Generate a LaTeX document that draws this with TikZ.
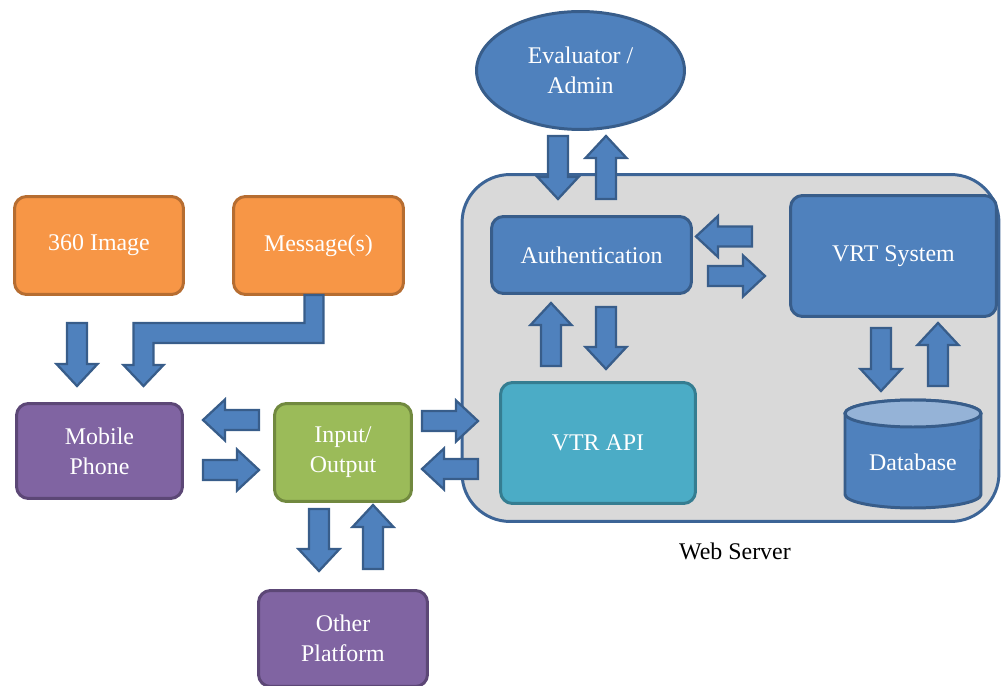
\documentclass[tikz,border=0pt]{standalone}
\usepackage{fontspec}
\setmainfont{Liberation Serif}
\usepackage{tikz}
\usetikzlibrary{calc,shapes.geometric}

\definecolor{orangefill}{HTML}{F79646}
\definecolor{orangeedge}{HTML}{B66D31}
\definecolor{purplefill}{HTML}{8064A2}
\definecolor{purpleedge}{HTML}{5C4776}
\definecolor{greenfill}{HTML}{9BBB59}
\definecolor{greenedge}{HTML}{71893F}
\definecolor{bluefill}{HTML}{4F81BD}
\definecolor{blueedge}{HTML}{385D8A}
\definecolor{aquafill}{HTML}{4BACC6}
\definecolor{aquaedge}{HTML}{357D91}
\definecolor{serverfill}{HTML}{D9D9D9}
\definecolor{serveredge}{HTML}{3C6496}
\definecolor{dbtopfill}{HTML}{95B3D7}

\tikzset{
  box/.style={rectangle, rounded corners=0.24cm, line width=1.7pt, text=white, align=center,
    inner sep=0pt, font=\fontsize{13.6pt}{17pt}\selectfont},
  orangebox/.style={box, draw=orangeedge, fill=orangefill},
  purplebox/.style={box, draw=purpleedge, fill=purplefill},
  greenbox/.style={box, draw=greenedge, fill=greenfill},
  bluebox/.style={box, draw=blueedge, fill=bluefill},
  aquabox/.style={box, draw=aquaedge, fill=aquafill},
  blockarrow/.style={draw=blueedge, fill=bluefill, line width=1.3pt, line join=miter,
    to path={let \p1=(\tikztostart), \p2=(\tikztotarget), \p3=($(\p2)!0.44cm!(\p1)$) in
      ($(\p1)!0.2cm!90:(\p2)$) -- ($(\p3)!0.2cm!-90:(\p1)$) -- ($(\p3)!0.41cm!-90:(\p1)$)
      -- (\p2) -- ($(\p3)!0.41cm!90:(\p1)$) -- ($(\p3)!0.2cm!90:(\p1)$)
      -- ($(\p1)!0.2cm!-90:(\p2)$) -- cycle}}
}

\begin{document}
\begin{tikzpicture}[x=0.02cm, y=-0.02cm]
\useasboundingbox (0,0) rectangle (1002,686);

% web server frame
\node[rectangle, rounded corners=0.96cm, line width=1.7pt, draw=serveredge, fill=serverfill,
  minimum width=10.74cm, minimum height=6.94cm] (server) at (730.5,348) {}; % server
\node[font=\fontsize{13.6pt}{17pt}\selectfont] (serverlabel) at (735,551) {Web Server}; % server

% nodes
\node[ellipse, line width=1.7pt, draw=blueedge, fill=bluefill, text=white, align=center, inner sep=0pt,
  minimum width=4.16cm, minimum height=2.36cm, font=\fontsize{13.6pt}{17pt}\selectfont]
  (eval) at (580.5,70.5) {Evaluator /\\Admin}; % eval
\node[bluebox, minimum width=4.0cm, minimum height=1.54cm] (auth) at (591.5,255) {Authentication}; % auth
\node[bluebox, minimum width=4.12cm, minimum height=2.42cm] (vrt) at (893.5,256) {VRT System}; % vrt
\node[aquabox, minimum width=3.9cm, minimum height=2.42cm] (api) at (598,443) {VTR API}; % api
\node[orangebox, minimum width=3.38cm, minimum height=1.96cm] (img) at (99,245.5) {360 Image}; % img
\node[orangebox, minimum width=3.40cm, minimum height=1.96cm] (msg) at (318.5,245.5) {Message(s)}; % msg
\node[purplebox, minimum width=3.32cm, minimum height=1.90cm] (mobile) at (99.5,451) {Mobile\\Phone}; % mobile
\node[greenbox, minimum width=2.74cm, minimum height=1.96cm] (io) at (343,452.5) {Input/\\Output}; % io
\node[purplebox, minimum width=3.38cm, minimum height=1.92cm] (other) at (343,638.5) {Other\\Platform}; % other

% database
\draw[line width=1.7pt, draw=blueedge, fill=bluefill] (845,413.5) -- (845,494.5)
  arc[start angle=180, end angle=360, x radius=1.36cm, y radius=0.27cm] -- (981,413.5)
  arc[start angle=0, end angle=180, x radius=1.36cm, y radius=0.27cm] -- cycle; % db
\draw[line width=1.7pt, draw=blueedge, fill=dbtopfill] (913,413.5) ellipse [x radius=1.36cm, y radius=0.27cm]; % db
\node[text=white, font=\fontsize{13.6pt}{17pt}\selectfont] (db) at (913,462) {Database}; % db

% arrow ends
\coordinate (a1s) at (77,323);   \coordinate (a1e) at (77,386);
\coordinate (a3s) at (259,420);  \coordinate (a3e) at (203,420);
\coordinate (a4s) at (203,470);  \coordinate (a4e) at (259,470);
\coordinate (a5s) at (422,421);  \coordinate (a5e) at (478,421);
\coordinate (a6s) at (478,469);  \coordinate (a6e) at (422,469);
\coordinate (a7s) at (319,509);  \coordinate (a7e) at (319,571);
\coordinate (a8s) at (373,569);  \coordinate (a8e) at (373,505);
\coordinate (a9s) at (558,136);  \coordinate (a9e) at (558,199);
\coordinate (a10s) at (606,199); \coordinate (a10e) at (606,136);
\coordinate (a11s) at (752,236.5); \coordinate (a11e) at (696,236.5);
\coordinate (a12s) at (708,276); \coordinate (a12e) at (765,276);
\coordinate (a13s) at (551,366); \coordinate (a13e) at (551,303);
\coordinate (a14s) at (606,307); \coordinate (a14e) at (606,369);
\coordinate (a15s) at (881,328); \coordinate (a15e) at (881,391);
\coordinate (a16s) at (938,386); \coordinate (a16e) at (938,323);

% block arrows
\draw[blockarrow] (a1s) to (a1e); % img to mobile
\draw[blockarrow] (a3s) to (a3e); % io to mobile
\draw[blockarrow] (a4s) to (a4e); % mobile to io
\draw[blockarrow] (a5s) to (a5e); % io to api
\draw[blockarrow] (a6s) to (a6e); % api to io
\draw[blockarrow] (a7s) to (a7e); % io to other
\draw[blockarrow] (a8s) to (a8e); % other to io
\draw[blockarrow] (a9s) to (a9e); % eval to auth
\draw[blockarrow] (a10s) to (a10e); % auth to eval
\draw[blockarrow] (a11s) to (a11e); % vrt to auth
\draw[blockarrow] (a12s) to (a12e); % auth to vrt
\draw[blockarrow] (a13s) to (a13e); % api to auth
\draw[blockarrow] (a14s) to (a14e); % auth to api
\draw[blockarrow] (a15s) to (a15e); % vrt to db
\draw[blockarrow] (a16s) to (a16e); % db to vrt

% bent arrow msg to mobile
\coordinate (msgout) at (304.5,295);
\draw[draw=blueedge, fill=bluefill, line width=1.3pt, line join=miter] (msgout) -- ++(19,0) -- ++(0,48)
  -- ++(-170,0) -- ++(0,22) -- ++(10,0) -- ++(-20,21) -- ++(-20,-21) -- ++(10,0) -- ++(0,-42)
  -- ++(171,0) -- cycle; % msg to mobile
\end{tikzpicture}
\end{document}
